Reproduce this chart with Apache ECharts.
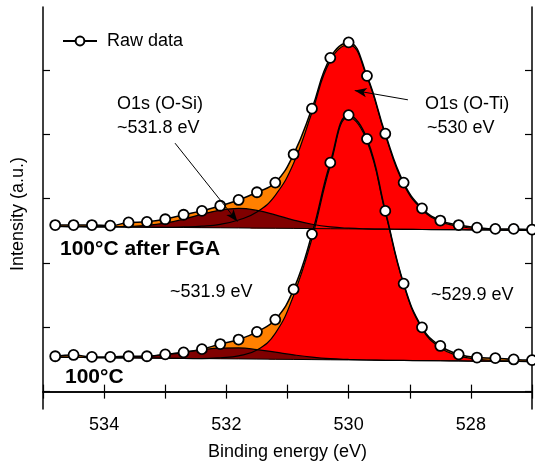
<!DOCTYPE html>
<html><head><meta charset="utf-8">
<script src="https://cdn.jsdelivr.net/npm/echarts@6/dist/echarts.min.js"></script>
<style>html,body{margin:0;padding:0;background:#fff}#c{width:535px;height:468px}</style>
</head><body><div id="c"></div>
<script>
// Binding energy grid (eV)
const energy = [534.8,534.5,534.2,533.9,533.6,533.3,533.0,532.7,532.4,532.1,531.8,531.5,531.2,530.9,530.6,530.3,530.0,529.7,529.4,529.1,528.8,528.5,528.2,527.9,527.6,527.3,527.0];
// 100°C after FGA (upper spectrum)
const rawFGA = [2.59,2.59,2.59,2.58,2.63,2.64,2.68,2.75,2.81,2.89,2.98,3.10,3.25,3.69,4.40,5.19,5.43,4.91,4.01,3.25,2.85,2.66,2.59,2.55,2.53,2.53,2.52];
const bgFGA  = [2.568,2.566,2.563,2.561,2.559,2.556,2.554,2.552,2.549,2.547,2.545,2.542,2.540,2.538,2.535,2.533,2.531,2.528,2.526,2.524,2.521,2.519,2.517,2.514,2.512,2.510,2.507];
const siFGA  = [2.568,2.566,2.563,2.564,2.569,2.584,2.621,2.681,2.757,2.822,2.848,2.817,2.748,2.667,2.602,2.561,2.541,2.531,2.526,2.524,2.521,2.519,2.517,2.514,2.512,2.510,2.507];
const tiFGA  = [2.568,2.566,2.563,2.561,2.559,2.556,2.554,2.560,2.572,2.601,2.669,2.791,3.053,3.549,4.339,5.146,5.393,4.892,3.988,3.224,2.832,2.643,2.571,2.534,2.518,2.510,2.507];
// 100°C (lower spectrum)
const raw100 = [0.55,0.57,0.54,0.54,0.55,0.55,0.58,0.61,0.66,0.74,0.81,0.93,1.12,1.59,2.45,3.56,4.30,3.93,2.81,1.68,1.00,0.71,0.58,0.53,0.52,0.50,0.49];
const bg100  = [0.535,0.532,0.530,0.527,0.524,0.522,0.519,0.516,0.514,0.511,0.509,0.506,0.503,0.501,0.498,0.495,0.493,0.490,0.487,0.485,0.482,0.480,0.477,0.474,0.472,0.469,0.466];
const si100  = [0.535,0.532,0.530,0.529,0.537,0.552,0.577,0.612,0.651,0.676,0.679,0.654,0.613,0.571,0.536,0.512,0.500,0.492,0.487,0.485,0.482,0.480,0.477,0.474,0.472,0.469,0.466];
const ti100  = [0.535,0.532,0.530,0.527,0.524,0.522,0.519,0.516,0.514,0.527,0.556,0.646,0.907,1.496,2.380,3.512,4.272,3.896,2.789,1.667,0.980,0.682,0.555,0.505,0.484,0.474,0.466];
// axis ticks
const xTickLabels = [534,532,530,528];
const yTicks = [0,1,2,3,4,5];
// arrows [from E, from I, to E, to I]
const arrowSi = [532.84,3.863,531.82,2.644];
const arrowTi = [529.03,4.537,529.90,4.681];

const FONT = '"Liberation Sans", Arial, sans-serif';
const S = 0.45;
const pts = a => energy.map((e,i)=>[e,a[i]]);
// stacked series: intensity first so that stacking acts on the intensity dimension
const sPts = a => energy.map((e,i)=>[a[i],e]);
const sDiff = (a,b) => energy.map((e,i)=>[+(a[i]-b[i]).toFixed(4),e]);

function band(stack, top, base, color, outline){
  return [
    {type:'line', stack, stackStrategy:'all', data:sPts(base), encode:{x:1,y:0}, symbol:'none', smooth:S, silent:true,
     lineStyle:{opacity:0}},
    {type:'line', stack, stackStrategy:'all', data:sDiff(top,base), encode:{x:1,y:0}, symbol:'none', smooth:S, silent:true,
     lineStyle:{color:'#000', width:outline?1.2:0, opacity:outline?1:0},
     areaStyle:{color, opacity:1}}
  ];
}
function baseLine(base){
  return {type:'line', data:pts(base), symbol:'none', silent:true, lineStyle:{color:'#000', width:1}};
}
function rawSeries(name, raw){
  return {type:'line', name, data:pts(raw), smooth:S, symbol:'circle', symbolSize:10, showSymbol:true,
    lineStyle:{color:'#000', width:1.5}, itemStyle:{color:'#fff', borderColor:'#000', borderWidth:1.8}, silent:true};
}

const series = [
  ...band('tEnv', rawFGA, bgFGA, '#ff8000', false),
  ...band('tTi', tiFGA, bgFGA, '#ff0000', true),
  ...band('tSi', siFGA, bgFGA, '#800000', true),
  baseLine(bgFGA),
  rawSeries('Raw data', rawFGA),
  ...band('bEnv', raw100, bg100, '#ff8000', false),
  ...band('bTi', ti100, bg100, '#ff0000', true),
  ...band('bSi', si100, bg100, '#800000', true),
  baseLine(bg100),
  Object.assign(rawSeries('Raw data 100', raw100), {
    markLine:{silent:true, symbol:['none','arrow'], symbolSize:[7,12], animation:false,
      lineStyle:{color:'#000', width:1, type:'solid'}, label:{show:false}, emphasis:{disabled:true},
      data:[
        [{coord:[arrowSi[0],arrowSi[1]]},{coord:[arrowSi[2],arrowSi[3]]}],
        [{coord:[arrowTi[0],arrowTi[1]]},{coord:[arrowTi[2],arrowTi[3]]}]
      ]}
  })
];

const axX = (pos, labels) => ({
  type:'value', position:pos, inverse:true, min:527, max:535, interval:1,
  axisLine:{show:true, lineStyle:{color:'#000', width:1.5}},
  axisTick:{show:true, inside:true, length:7, lineStyle:{color:'#000', width:1.2}},
  axisLabel:{show:labels, margin:7, fontSize:18, fontFamily:FONT, color:'#000',
    formatter:v => xTickLabels.indexOf(v) >= 0 ? String(v) : ''},
  splitLine:{show:false},
  name: labels ? 'Binding energy (eV)' : '', nameLocation:'middle', nameGap:34,
  nameTextStyle:{fontSize:18, fontFamily:FONT, color:'#000'}
});
const axY = (pos) => ({
  type:'value', position:pos, min:-0.27, max:5.98,
  axisLine:{show:true, lineStyle:{color:'#000', width:1.5}},
  axisTick:{show:true, inside:true, length:7, customValues:yTicks, lineStyle:{color:'#000', width:1.2}},
  axisLabel:{show:false},
  splitLine:{show:false}
});

const txt = (t, x, y, size, bold) => ({type:'text', x, y, silent:true,
  style:{text:t, fill:'#000', font:(bold?'bold ':'')+size+'px '+FONT, textAlign:'left', textVerticalAlign:'middle'}});

const chart = echarts.init(document.getElementById('c'), null, {renderer:'canvas'});
chart.setOption({
  animation:false,
  backgroundColor:'#fff',
  grid:{left:43, top:7, width:496, height:402, containLabel:false},
  xAxis:[axX('bottom', true), axX('top', false)],
  yAxis:[axY('left'), axY('right')],
  legend:{data:['Raw data'], left:57, top:27, itemWidth:34, itemHeight:11, selectedMode:false,
    textStyle:{fontSize:18, fontFamily:FONT, color:'#000', padding:[0,0,0,5]}},
  graphic:[
    {type:'text', x:18, y:214, rotation:Math.PI/2, silent:true,
     style:{text:'Intensity (a.u.)', fill:'#000', font:'18px '+FONT, textAlign:'center', textVerticalAlign:'middle'}},
    txt('O1s (O-Si)', 117, 104, 18, false),
    txt('~531.8 eV', 117, 128, 18, false),
    txt('O1s (O-Ti)', 425, 104, 18, false),
    txt('~530 eV', 427, 128, 18, false),
    txt('100°C after FGA', 60, 249, 21, true),
    txt('~531.9 eV', 170, 292, 18, false),
    txt('~529.9 eV', 431, 295, 18, false),
    txt('100°C', 65, 377, 21, true)
  ],
  series
});
</script></body></html>
